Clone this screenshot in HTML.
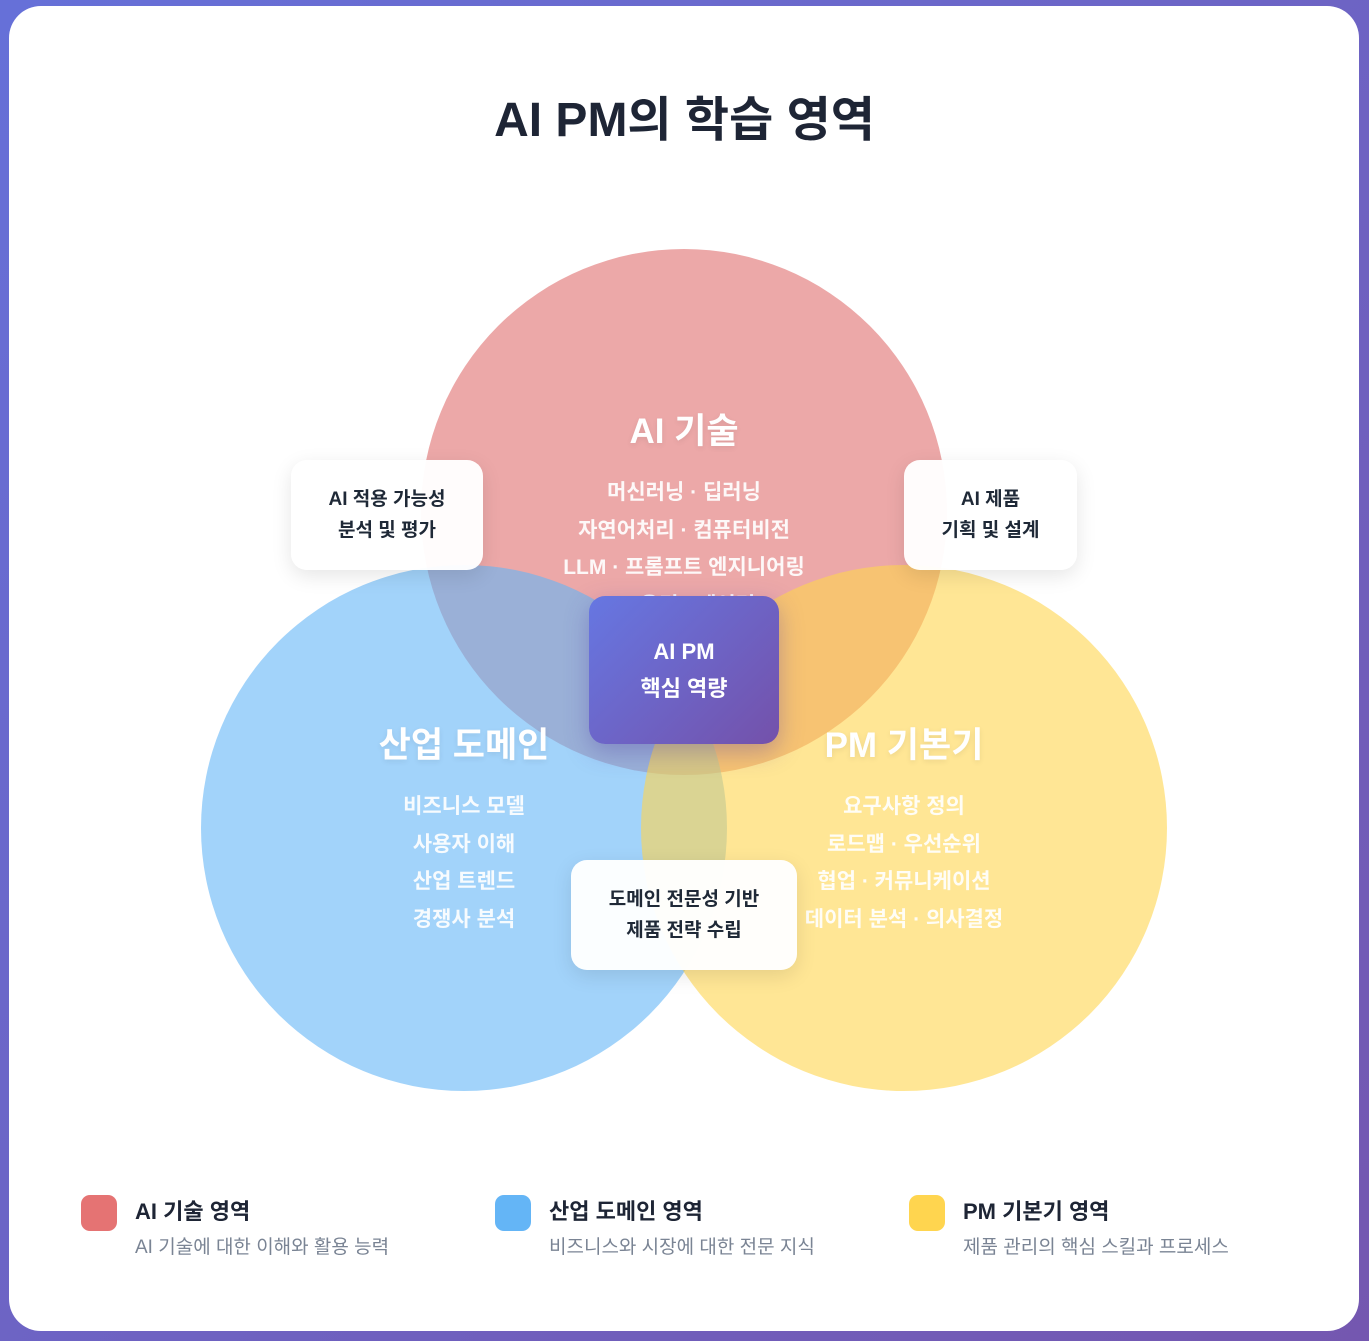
<!DOCTYPE html>
<html><head><meta charset="utf-8"><style>
*{margin:0;padding:0;box-sizing:border-box}
html,body{width:1369px;height:1341px;overflow:hidden}
body{background:linear-gradient(135deg,#6670d8,#7457b0);font-family:"Liberation Sans","Noto Sans CJK KR",sans-serif;position:relative}
.card{position:absolute;left:9px;top:6px;width:1350px;height:1325px;background:#fff;border-radius:32px}
h1{position:absolute;left:0;width:1369px;top:80px;text-align:center;font-size:48px;font-weight:700;color:#1e2535;letter-spacing:0}
.c{position:absolute;width:526px;height:526px;border-radius:50%}
.t{position:absolute;text-align:center;color:#fff;font-weight:700}
.t .h{font-size:35px;margin-bottom:20px;text-shadow:0 2px 6px rgba(0,0,0,.08)}
.t .l{font-size:21px;line-height:37.5px;opacity:.92}
.box{position:absolute;background:rgba(255,255,255,.96);border-radius:16px;box-shadow:0 6px 20px rgba(0,0,0,.1);display:flex;align-items:center;justify-content:center;text-align:center;font-size:19px;font-weight:700;color:#1f2937;line-height:31px}
.center{position:absolute;left:589px;top:596px;width:190px;height:148px;border-radius:16px;background:linear-gradient(135deg,#6677e2,#7451aa);box-shadow:0 8px 24px rgba(80,60,160,.35);color:#fff;font-weight:700;font-size:22px;line-height:37px;display:flex;align-items:center;justify-content:center;text-align:center}
.lg{position:absolute;top:1194px}
.sq{position:absolute;left:0;top:1px;width:36px;height:36px;border-radius:9px}
.lg .a{position:absolute;left:54px;top:0;font-size:22px;font-weight:700;color:#1e2535;white-space:nowrap}
.lg .b{position:absolute;left:54px;top:38px;font-size:19px;color:#7a8494;white-space:nowrap}
</style></head><body>
<div class="card"></div>
<h1>AI PM의 학습 영역</h1>
<div class="c" style="left:421px;top:249px;background:rgba(224,110,110,.6)"></div>
<div class="c" style="left:201px;top:565px;background:rgba(100,181,246,.6)"></div>
<div class="c" style="left:641px;top:565px;background:rgba(255,213,79,.6)"></div>

<div class="t" style="left:484px;width:400px;top:403px"><div class="h">AI 기술</div>
<div class="l">머신러닝 · 딥러닝<br>자연어처리 · 컴퓨터비전<br>LLM · 프롬프트 엔지니어링<br>AI 윤리 · 데이터</div></div>
<div class="t" style="left:264px;width:400px;top:717px"><div class="h">산업 도메인</div>
<div class="l">비즈니스 모델<br>사용자 이해<br>산업 트렌드<br>경쟁사 분석</div></div>
<div class="t" style="left:704px;width:400px;top:717px"><div class="h">PM 기본기</div>
<div class="l">요구사항 정의<br>로드맵 · 우선순위<br>협업 · 커뮤니케이션<br>데이터 분석 · 의사결정</div></div>

<div class="box" style="left:291px;top:460px;width:192px;height:110px">AI 적용 가능성<br>분석 및 평가</div>
<div class="box" style="left:904px;top:460px;width:173px;height:110px">AI 제품<br>기획 및 설계</div>
<div class="box" style="left:571px;top:860px;width:226px;height:110px">도메인 전문성 기반<br>제품 전략 수립</div>
<div class="center">AI PM<br>핵심 역량</div>

<div class="lg" style="left:81px"><div class="sq" style="background:#e57373"></div><div class="a">AI 기술 영역</div><div class="b">AI 기술에 대한 이해와 활용 능력</div></div>
<div class="lg" style="left:495px"><div class="sq" style="background:#64b5f6"></div><div class="a">산업 도메인 영역</div><div class="b">비즈니스와 시장에 대한 전문 지식</div></div>
<div class="lg" style="left:909px"><div class="sq" style="background:#ffd54f"></div><div class="a">PM 기본기 영역</div><div class="b">제품 관리의 핵심 스킬과 프로세스</div></div>
</body></html>
